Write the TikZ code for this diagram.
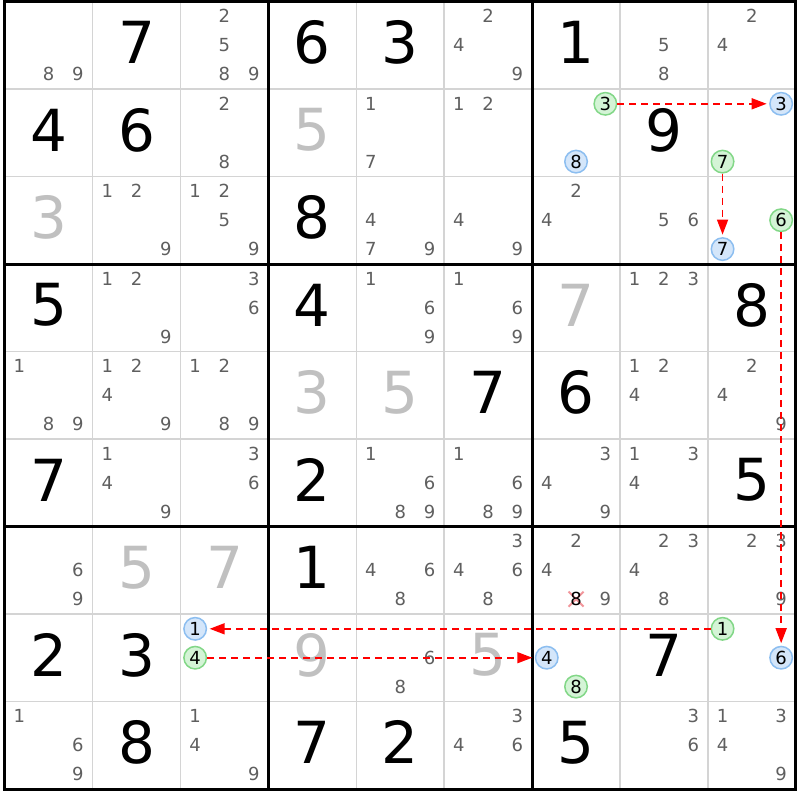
\documentclass[tikz,border=0pt]{standalone}
\usepackage{fontspec}
\newfontfamily\sudokufont{DejaVu Sans}
\usetikzlibrary{arrows.meta}
\definecolor{candgray}{RGB}{95,95,95}
\definecolor{givengray}{RGB}{192,192,192}
\definecolor{thingrid}{RGB}{212,212,212}
\definecolor{greenfill}{RGB}{212,244,214}
\definecolor{greenline}{RGB}{130,215,135}
\definecolor{bluefill}{RGB}{212,230,250}
\definecolor{blueline}{RGB}{140,190,240}
\definecolor{linkred}{RGB}{255,0,0}
\definecolor{crosspink}{RGB}{242,150,155}
% big digit: style, row, col, digit
\newcommand\bigat[4]{%
  \pgfmathsetmacro\px{4.7+(#3-0.5)*87.9}%
  \pgfmathsetmacro\py{1.5+(#2-0.5)*87.5-2.8}%
  \node[#1] (r#2c#3) at (\px,\py) {#4};}
% candidate: style, row, col, digit
\newcommand\candat[4]{%
  \pgfmathsetmacro\px{4.7+(#3-1)*87.9+14.65+mod(#4-1,3)*29.3}%
  \pgfmathsetmacro\py{1.5+(#2-1)*87.5+14.8+floor((#4-1)/3)*28.9}%
  \node[#1] (r#2c#3n#4) at (\px,\py) {#4};}
\newcommand\candlist[3]{\foreach \d in {#3}{\candat{cand}{#1}{#2}{\d}}}
\begin{document}
\begin{tikzpicture}[x=1pt,y=-1pt,
  big/.style={font=\sudokufont\fontsize{58}{60}\selectfont, text=black, inner sep=0pt},
  given/.style={big, text=givengray},
  cand/.style={font=\sudokufont\fontsize{18}{20}\selectfont, text=candgray, inner sep=0pt},
  gcirc/.style={circle, draw=greenline, fill=greenfill, line width=1.5pt, minimum size=22.5pt, inner sep=0pt, font=\sudokufont\fontsize{18}{20}\selectfont, text=black},
  bcirc/.style={gcirc, draw=blueline, fill=bluefill},
  thingrid/.style={draw=thingrid, line width=1.5pt},
  thickgrid/.style={draw=black, line width=3pt},
  crossline/.style={draw=crosspink, line width=2pt},
  link/.style={draw=linkred, line width=1.6pt, dash pattern=on 7pt off 5pt, -{Triangle[length=15pt,width=11pt]}, shorten >=2.5pt}]
\useasboundingbox[fill=white] (0,0) rectangle (800,800);
% grid
\foreach \i in {1,2,4,5,7,8} {
  \draw[thingrid] (4.7+\i*87.9,1.5) -- (4.7+\i*87.9,789);
  \draw[thingrid] (4.7,1.5+\i*87.5) -- (795.8,1.5+\i*87.5);
}
\foreach \i in {0,3,6,9} {
  \draw[thickgrid] (4.7+\i*87.9,0) -- (4.7+\i*87.9,790.5);
  \draw[thickgrid] (3.2,1.5+\i*87.5) -- (797.3,1.5+\i*87.5);
}
% row 1
\candlist{1}{1}{8,9}
\bigat{big}{1}{2}{7}
\candlist{1}{3}{2,5,8,9}
\bigat{big}{1}{4}{6}
\bigat{big}{1}{5}{3}
\candlist{1}{6}{2,4,9}
\bigat{big}{1}{7}{1}
\candlist{1}{8}{5,8}
\candlist{1}{9}{2,4}
% row 2
\bigat{big}{2}{1}{4}
\bigat{big}{2}{2}{6}
\candlist{2}{3}{2,8}
\bigat{given}{2}{4}{5}
\candlist{2}{5}{1,7}
\candlist{2}{6}{1,2}
\candat{gcirc}{2}{7}{3}
\candat{bcirc}{2}{7}{8}
\bigat{big}{2}{8}{9}
\candat{bcirc}{2}{9}{3}
\candat{gcirc}{2}{9}{7}
% row 3
\bigat{given}{3}{1}{3}
\candlist{3}{2}{1,2,9}
\candlist{3}{3}{1,2,5,9}
\bigat{big}{3}{4}{8}
\candlist{3}{5}{4,7,9}
\candlist{3}{6}{4,9}
\candlist{3}{7}{2,4}
\candlist{3}{8}{5,6}
\candat{gcirc}{3}{9}{6}
\candat{bcirc}{3}{9}{7}
% row 4
\bigat{big}{4}{1}{5}
\candlist{4}{2}{1,2,9}
\candlist{4}{3}{3,6}
\bigat{big}{4}{4}{4}
\candlist{4}{5}{1,6,9}
\candlist{4}{6}{1,6,9}
\bigat{given}{4}{7}{7}
\candlist{4}{8}{1,2,3}
\bigat{big}{4}{9}{8}
% row 5
\candlist{5}{1}{1,8,9}
\candlist{5}{2}{1,2,4,9}
\candlist{5}{3}{1,2,8,9}
\bigat{given}{5}{4}{3}
\bigat{given}{5}{5}{5}
\bigat{big}{5}{6}{7}
\bigat{big}{5}{7}{6}
\candlist{5}{8}{1,2,4}
\candlist{5}{9}{2,4,9}
% row 6
\bigat{big}{6}{1}{7}
\candlist{6}{2}{1,4,9}
\candlist{6}{3}{3,6}
\bigat{big}{6}{4}{2}
\candlist{6}{5}{1,6,8,9}
\candlist{6}{6}{1,6,8,9}
\candlist{6}{7}{3,4,9}
\candlist{6}{8}{1,3,4}
\bigat{big}{6}{9}{5}
% row 7
\candlist{7}{1}{6,9}
\bigat{given}{7}{2}{5}
\bigat{given}{7}{3}{7}
\bigat{big}{7}{4}{1}
\candlist{7}{5}{4,6,8}
\candlist{7}{6}{3,4,6,8}
\candlist{7}{7}{2,4,9}
\coordinate (x78) at (576.05,599.1);
\draw[crossline] ([shift={(-7.5,-7.5)}]x78) -- ([shift={(7.5,7.5)}]x78)
                 ([shift={(-7.5,7.5)}]x78) -- ([shift={(7.5,-7.5)}]x78);
\node[cand, text=black] (r7c7n8) at (x78) {8};
\candlist{7}{8}{2,3,4,8}
\candlist{7}{9}{2,3,9}
% row 8
\bigat{big}{8}{1}{2}
\bigat{big}{8}{2}{3}
\candat{bcirc}{8}{3}{1}
\candat{gcirc}{8}{3}{4}
\bigat{given}{8}{4}{9}
\candlist{8}{5}{6,8}
\bigat{given}{8}{6}{5}
\candat{bcirc}{8}{7}{4}
\candat{gcirc}{8}{7}{8}
\bigat{big}{8}{8}{7}
\candat{gcirc}{8}{9}{1}
\candat{bcirc}{8}{9}{6}
% row 9
\candlist{9}{1}{1,6,9}
\bigat{big}{9}{2}{8}
\candlist{9}{3}{1,4,9}
\bigat{big}{9}{4}{7}
\bigat{big}{9}{5}{2}
\candlist{9}{6}{3,4,6}
\bigat{big}{9}{7}{5}
\candlist{9}{8}{3,6}
\candlist{9}{9}{1,3,4,9}
% links
\draw[link] (r2c7n3) -- (r2c9n3);
\draw[link] (r2c9n7) -- (r3c9n7);
\draw[link] (r3c9n6) -- (r8c9n6);
\draw[link] (r8c9n1) -- (r8c3n1);
\draw[link] (r8c3n4) -- (r8c7n4);
\end{tikzpicture}
\end{document}
